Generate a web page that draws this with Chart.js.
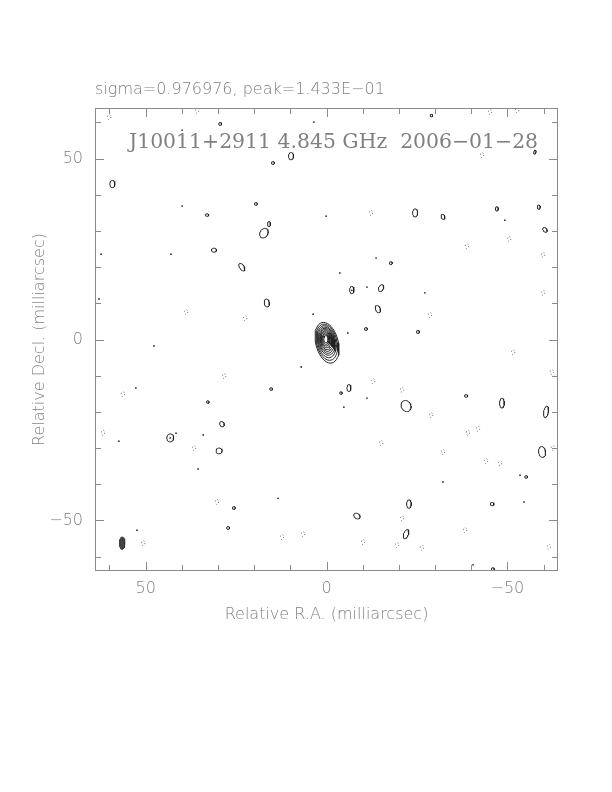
<!DOCTYPE html>
<html>
<head>
<meta charset="utf-8">
<script src="https://cdn.jsdelivr.net/npm/chart.js@4.4.1/dist/chart.umd.min.js"></script>
<style>
  html, body { margin: 0; padding: 0; background: #fff; }
  #wrap { width: 612px; height: 792px; }
</style>
</head>
<body>
<div id="wrap"><canvas id="map" width="612" height="792"></canvas></div>
<script>
// titles
const plotTitle = 'sigma=0.976976, peak=1.433E\u221201';
const sourceLabel = 'J10011+2911 4.845 GHz  2006\u221201\u221228';
const xTitle = 'Relative R.A. (milliarcsec)';
const yTitle = 'Relative Decl. (milliarcsec)';

// axes (milliarcsec)
const axisMin = -64;
const axisMax = 64;
const labelTicks = [-50, 0, 50];
const markTicks = [-60, -50, -40, -30, -20, -10, 0, 10, 20, 30, 40, 50, 60];

// core contours, outer -> inner
const coreX = [-0.14, -0.08, -0.03, 0, 0.03, 0.06, 0.08, 0.11, 0.14, 0.14, 0.14];
const coreY = [-0.9, -0.75, -0.6, -0.45, -0.35, -0.25, -0.17, -0.08, 0, 0.06, 0.11];
const coreRx = [3.1, 2.8, 2.5, 2.25, 2.0, 1.78, 1.56, 1.34, 1.1, 0.86, 0.6];
const coreRy = [5.75, 5.1, 4.5, 3.95, 3.5, 3.06, 2.64, 2.22, 1.8, 1.38, 0.97];
const coreTilt = [-14, -13, -12, -12, -11, -10, -9, -8, -6, -4, -2];

// small positive contour islands
const islandX = [59.2, 29.4, 9.8, 14.8, 19.5, 33.0, 15.9, 17.3, 31.1, 23.4, 16.5,
  -29.0, -24.5, -32.2, -47.1, -58.7, -60.4, -17.8, -7.0, -15.1, -14.2, -10.9, -25.3, -57.6,
  43.2, 29.7, 28.9, 15.3, 32.8, 25.6, 27.2,
  -6.2, -4.0, -22.0, -38.6, -48.5, -60.7, -59.6, -55.2, -22.8, -45.8, -8.4, -22.0, -46.0];
const islandY = [43.0, 59.6, 50.7, 48.8, 37.5, 34.4, 31.9, 29.4, 24.7, 20.0, 10.1,
  61.9, 35.0, 33.9, 36.1, 36.6, 30.3, 21.1, 13.7, 14.2, 8.4, 2.9, 2.1, 51.8,
  -27.2, -30.8, -23.4, -13.7, -17.3, -46.6, -52.1,
  -13.4, -14.8, -18.4, -15.6, -17.6, -20.0, -31.1, -38.0, -45.5, -45.5, -48.8, -53.8, -63.5];
const islandRx = [0.7, 0.4, 0.7, 0.4, 0.4, 0.45, 0.4, 1.1, 0.7, 0.6, 0.7,
  0.35, 0.7, 0.5, 0.4, 0.4, 0.5, 0.4, 0.6, 0.65, 0.65, 0.4, 0.4, 0.3,
  0.95, 0.85, 0.6, 0.4, 0.35, 0.4, 0.4,
  0.55, 0.35, 1.3, 0.45, 0.65, 0.65, 0.95, 0.4, 0.65, 0.5, 0.95, 0.65, 0.4];
const islandRy = [1.0, 0.4, 1.0, 0.4, 0.4, 0.35, 0.7, 1.4, 0.55, 1.2, 1.1,
  0.35, 1.1, 0.7, 0.6, 0.6, 0.75, 0.4, 1.0, 1.0, 1.05, 0.4, 0.45, 0.6,
  1.1, 0.8, 0.75, 0.35, 0.35, 0.4, 0.4,
  0.95, 0.35, 1.6, 0.35, 1.35, 1.6, 1.5, 0.35, 1.15, 0.45, 0.7, 1.35, 0.4];
const islandTilt = [0, 0, 0, 0, 0, 0, 0, 30, 0, -35, -10,
  0, 0, -20, 0, 0, -40, 0, 0, 25, -25, 0, 0, 15,
  0, 0, -30, 0, 0, 0, 0,
  0, 0, -30, 0, 0, 10, -10, 0, 0, 0, 35, 20, 0];

// negative (dotted) contours
const negX = [60.1, 35.8, 38.8, 22.5, -12.3, -38.8, -50.5, -59.9, -59.9, -28.6, -43.0, -45.2, -52.7,
  56.3, 28.3, 61.8, 36.6, 30.3, 50.7, 12.3, 6.5,
  -51.6, -62.3, -12.9, -20.9, -28.9, -39.1, -41.9, -15.1, -32.2, -44.1, -48.0, -62.6,
  -38.3, -20.9, -10.1, -19.5, -26.4, -61.5];
const negY = [61.5, 63.2, 7.6, 5.9, 35.0, 25.8, 27.8, 23.4, 12.9, 6.8, 51.0, 62.9, 63.4,
  -15.1, -10.1, -25.8, -30.0, -44.9, -56.3, -54.6, -53.8,
  -3.5, -9.0, -11.5, -13.9, -20.9, -25.8, -24.7, -28.6, -31.1, -33.6, -34.2, -30.0,
  -52.7, -49.4, -56.0, -56.8, -57.6, -57.3];
const negRx = 0.45;
const negRy = 0.7;

// single-pixel positive peaks
const dotX = [39.9, 62.3, 43.0, 0.1, 3.5, 47.7, 62.9, 39.9, -11.2, -3.7, -13.7, -27.2, -49.3,
  52.7, 7.0, 34.1, 41.6, 35.5, 13.4, 52.4, 57.4, -11.2, -4.8, -53.5, -54.6, -32.2, -40.5,
  3.7, -5.9, 43.2, -7.0];
const dotY = [36.9, 23.6, 23.6, 34.1, 60.1, -1.8, 11.2, 57.9, 14.5, 18.4, 22.5, 12.9, 33.0,
  -13.4, -7.6, -26.4, -25.9, -35.8, -43.9, -52.7, -28.1, -16.2, -18.7, -37.5, -44.9, -39.4, -62.3,
  7.0, 1.8, -27.2, 13.6];

// restoring beam
const beamX = 56.5;
const beamY = -56.3;
const beamRx = 0.75;
const beamRy = 1.7;

const textColor = '#808080';
const frameColor = '#8a8a8a';
const lineColor = '#222222';

// closed outline of an ellipse in data units (tilt: degrees clockwise on screen)
function ellipse(cx, cy, rx, ry, tilt) {
  const a = tilt * Math.PI / 180;
  const pts = [];
  for (let k = 0; k <= 40; k++) {
    const t = k / 40 * 2 * Math.PI;
    const ex = rx * Math.cos(t);
    const ey = ry * Math.sin(t);
    const ox = ex * Math.cos(a) - ey * Math.sin(a);
    const oy = ex * Math.sin(a) + ey * Math.cos(a);
    pts.push({ x: cx - ox, y: cy - oy }); // R.A. axis runs right to left
  }
  return pts;
}

const datasets = [];
coreX.forEach((cx, i) => {
  datasets.push({
    data: ellipse(cx, coreY[i], coreRx[i], coreRy[i], coreTilt[i]),
    borderColor: lineColor, borderWidth: 1
  });
});
islandX.forEach((cx, i) => {
  datasets.push({
    data: ellipse(cx, islandY[i], islandRx[i], islandRy[i], islandTilt[i]),
    borderColor: lineColor, borderWidth: 1
  });
});
negX.forEach((cx, i) => {
  datasets.push({
    data: ellipse(cx, negY[i], negRx, negRy, 0),
    borderColor: '#555555', borderWidth: 1, borderDash: [1, 2.5]
  });
});
datasets.push({
  data: ellipse(beamX, beamY, beamRx, beamRy, 0),
  borderColor: '#333333', borderWidth: 1,
  backgroundColor: '#444444', fill: 'shape'
});
datasets.push({
  data: dotX.map((x, i) => ({ x: x, y: dotY[i] })),
  showLine: false, pointRadius: 0.9, pointBackgroundColor: '#333333', pointBorderWidth: 0
});

// frame, inward ticks and the in-plot label
const framePlugin = {
  id: 'frame',
  afterDatasetsDraw(chart) {
    const { ctx, chartArea, scales } = chart;
    const { left, right, top, bottom } = chartArea;
    ctx.save();
    ctx.strokeStyle = frameColor;
    ctx.lineWidth = 1;
    ctx.strokeRect(left + 0.5, top + 0.5, right - left - 1, bottom - top - 1);
    ctx.beginPath();
    markTicks.forEach(v => {
      const len = labelTicks.includes(v) ? 9 : 6;
      const px = Math.round(scales.x.getPixelForValue(v)) + 0.5;
      const py = Math.round(scales.y.getPixelForValue(v)) + 0.5;
      ctx.moveTo(px, bottom); ctx.lineTo(px, bottom - len);
      ctx.moveTo(px, top); ctx.lineTo(px, top + len);
      ctx.moveTo(left, py); ctx.lineTo(left + len, py);
      ctx.moveTo(right, py); ctx.lineTo(right - len, py);
    });
    ctx.stroke();
    ctx.fillStyle = textColor;
    ctx.font = '20.4px "DejaVu Serif"';
    ctx.textBaseline = 'alphabetic';
    ctx.textAlign = 'left';
    ctx.fillText(sourceLabel, 129, 148);
    ctx.restore();
  }
};

const tickFont = { family: 'DejaVu Sans', size: 16, weight: 200 };
const fmt = v => (v < 0 ? '\u2212' + Math.abs(v) : String(v));

new Chart(document.getElementById('map'), {
  type: 'scatter',
  data: { datasets: datasets },
  options: {
    responsive: false,
    animation: false,
    events: [],
    layout: { padding: { left: 0, right: 54, top: 0, bottom: 0 } },
    elements: {
      line: { tension: 0, fill: false },
      point: { radius: 0 }
    },
    datasets: { scatter: { showLine: true } },
    plugins: {
      legend: { display: false },
      tooltip: { enabled: false },
      title: {
        display: true,
        text: plotTitle,
        align: 'start',
        fullSize: false,
        color: textColor,
        font: { family: 'DejaVu Sans', size: 16, weight: 200 },
        padding: { top: 80.4, bottom: 8.4 }
      }
    },
    scales: {
      x: {
        type: 'linear',
        reverse: true,
        min: axisMin,
        max: axisMax,
        afterBuildTicks: s => { s.ticks = labelTicks.map(v => ({ value: v })); },
        afterFit: s => { s.height = 221; },
        grid: { display: false, drawTicks: false },
        border: { display: false },
        ticks: { color: textColor, font: tickFont, padding: 8, maxRotation: 0, callback: v => fmt(v) },
        title: { display: true, text: xTitle, color: textColor, font: tickFont, padding: { top: 0, bottom: 167.4 } }
      },
      y: {
        type: 'linear',
        min: axisMin,
        max: axisMax,
        afterBuildTicks: s => { s.ticks = labelTicks.map(v => ({ value: v })); },
        afterFit: s => { s.width = 95; },
        grid: { display: false, drawTicks: false },
        border: { display: false },
        ticks: { color: textColor, font: tickFont, padding: 12, callback: v => fmt(v) },
        title: { display: true, text: yTitle, color: textColor, font: tickFont, padding: { top: 30.4, bottom: 0 } }
      }
    }
  },
  plugins: [framePlugin]
});
</script>
</body>
</html>
